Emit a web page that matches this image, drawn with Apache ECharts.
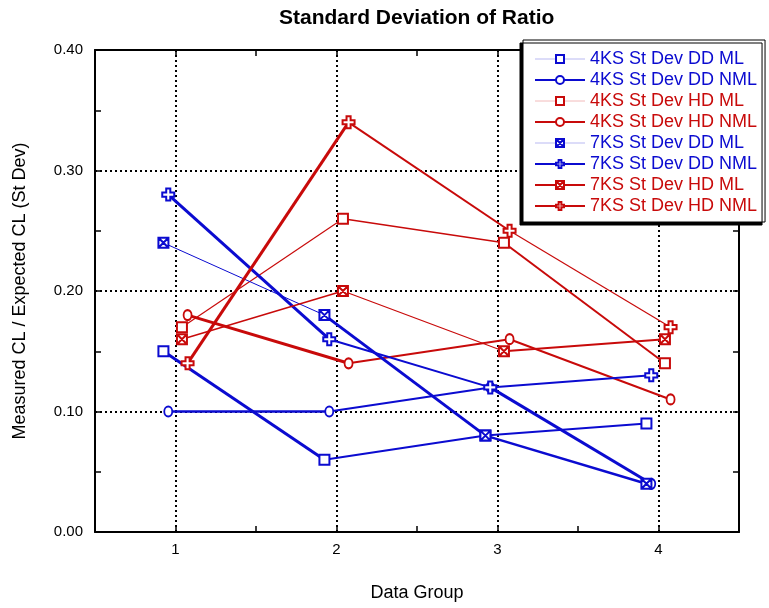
<!DOCTYPE html>
<html>
<head>
<meta charset="utf-8">
<title>Standard Deviation of Ratio</title>
<script src="https://cdn.jsdelivr.net/npm/echarts@6/dist/echarts.min.js"></script>
<style>
    html, body { margin: 0; padding: 0; background: #fff; }
    #main { width: 769px; height: 608px; }
</style>
</head>
<body>
<div id="main"></div>
<script>
// data groups on the x axis
var groups = [1, 2, 3, 4];

var seriesNames = [
    '4KS St Dev DD ML', '4KS St Dev DD NML', '4KS St Dev HD ML', '4KS St Dev HD NML',
    '7KS St Dev DD ML', '7KS St Dev DD NML', '7KS St Dev HD ML', '7KS St Dev HD NML'
];

// St Dev of measured/expected CL, one value per data group
var dd4ML  = [0.15, 0.06, 0.08, 0.09];
var dd4NML = [0.10, 0.10, 0.12, 0.04];
var hd4ML  = [0.17, 0.26, 0.24, 0.14];
var hd4NML = [0.18, 0.14, 0.16, 0.11];
var dd7ML  = [0.24, 0.18, 0.08, 0.04];
var dd7NML = [0.28, 0.16, 0.12, 0.13];
var hd7ML  = [0.16, 0.20, 0.15, 0.16];
var hd7NML = [0.14, 0.34, 0.25, 0.17];

var allValues = [dd4ML, dd4NML, hd4ML, hd4NML, dd7ML, dd7NML, hd7ML, hd7NML];

var blue = '#0b0bd0', red = '#c80a0a';
var lightBlue = '#b9b9f2', lightRed = '#f2baba';
var colors = [blue, blue, red, red, blue, blue, red, red];

// small horizontal shift so markers of one group do not sit on top of each other
var shifts = [-0.075, -0.045, 0.04, 0.075, -0.075, -0.045, 0.04, 0.075];

var SQ = 'path://M0,0H10V10H0Z';
var SQX = 'path://M0,0H10V10H0Z M0,0L10,10 M10,0L0,10';
var PLUS = 'path://M3.3,0H6.7V3.3H10V6.7H6.7V10H3.3V6.7H0V3.3H3.3Z';
var symbols = [SQ, 'circle', SQ, 'circle', SQX, PLUS, SQX, PLUS];
var symbolSizes = [10, [8, 10], 10, [8, 10], 10, 12, 10, 12];

// line width of every segment (the original draws them unevenly)
var segWidths = [
    [3, 2, 2], [2.5, 2, 3], [1.2, 1.5, 2], [3, 2, 2],
    [1, 3, 2.5], [3, 2, 2], [1.5, 1.2, 2], [3, 2, 1.2]
];
var legendLineWidth = [1, 2, 1, 2, 1, 2, 2, 2];
var legendLineColor = [lightBlue, blue, lightRed, red, lightBlue, blue, red, red];

var font = "'Liberation Sans', Arial, sans-serif";

var myChart = echarts.init(document.getElementById('main'));

var series = [];
// markers
seriesNames.forEach(function (name, i) {
    series.push({
        name: name,
        type: 'line',
        z: 5,
        data: groups.map(function (g, j) { return [g + shifts[i], allValues[i][j]]; }),
        symbol: symbols[i],
        symbolSize: symbolSizes[i],
        showAllSymbol: true,
        itemStyle: { color: '#fff', borderColor: colors[i], borderWidth: 2 },
        lineStyle: { opacity: 0 },
        emphasis: { disabled: true }
    });
});
// connecting segments
seriesNames.forEach(function (name, i) {
    for (var j = 0; j < groups.length - 1; j++) {
        series.push({
            name: name,
            type: 'line',
            z: 3,
            symbol: 'none',
            silent: true,
            data: [
                [groups[j] + shifts[i], allValues[i][j]],
                [groups[j + 1] + shifts[i], allValues[i][j + 1]]
            ],
            lineStyle: { color: colors[i], width: segWidths[i][j] },
            emphasis: { disabled: true }
        });
    }
});

var option = {
    animation: false,
    backgroundColor: '#fff',
    title: {
        text: 'Standard Deviation of Ratio',
        left: 279,
        top: 8,
        padding: 0,
        textStyle: { fontFamily: font, fontSize: 21, fontWeight: 'bold', color: '#000' }
    },
    legend: {
        orient: 'vertical',
        left: 523,
        top: 40,
        padding: [10, 8, 7, 11],
        itemWidth: 50,
        itemHeight: 10,
        itemGap: 3,
        backgroundColor: '#fff',
        borderColor: '#000',
        borderWidth: 1,
        shadowColor: '#000',
        shadowBlur: 0,
        shadowOffsetX: -3,
        shadowOffsetY: 3,
        textStyle: { fontFamily: font, fontSize: 18, lineHeight: 18 },
        data: seriesNames.map(function (name, i) {
            return {
                name: name,
                textStyle: { color: colors[i] },
                lineStyle: { width: legendLineWidth[i], color: legendLineColor[i], opacity: 1 }
            };
        })
    },
    grid: { left: 95, right: 30, top: 50, bottom: 76 },
    xAxis: [
        {
            type: 'value',
            position: 'bottom',
            min: 0.5,
            max: 4.5,
            interval: 0.5,
            name: 'Data Group',
            nameLocation: 'middle',
            nameGap: 52,
            nameTextStyle: { fontFamily: font, fontSize: 18, color: '#000' },
            axisLine: { show: true, onZero: false, lineStyle: { color: '#000', width: 2 } },
            axisTick: { show: true, inside: true, length: 6, lineStyle: { color: '#000', width: 1.5 } },
            axisLabel: {
                fontFamily: font, fontSize: 15, color: '#000', margin: 10,
                formatter: function (v) { return groups.indexOf(v) >= 0 ? String(v) : ''; }
            },
            splitLine: { show: true, lineStyle: { color: ['rgba(0,0,0,0)', '#000'], width: 2, type: [2, 3] } }
        },
        {
            type: 'value',
            position: 'top',
            min: 0.5,
            max: 4.5,
            interval: 0.5,
            axisLine: { show: true, onZero: false, lineStyle: { color: '#000', width: 2 } },
            axisTick: { show: true, inside: true, length: 6, lineStyle: { color: '#000', width: 1.5 } },
            axisLabel: { show: false },
            splitLine: { show: false }
        }
    ],
    yAxis: [
        {
            type: 'value',
            position: 'left',
            min: 0,
            max: 0.4,
            interval: 0.05,
            name: 'Measured CL / Expected CL (St Dev)',
            nameLocation: 'middle',
            nameGap: 66,
            nameTextStyle: { fontFamily: font, fontSize: 18, color: '#000' },
            axisLine: { show: true, onZero: false, lineStyle: { color: '#000', width: 2 } },
            axisTick: { show: true, inside: true, length: 6, lineStyle: { color: '#000', width: 1.5 } },
            axisLabel: {
                fontFamily: font, fontSize: 15, color: '#000', margin: 12,
                formatter: function (v) {
                    return Math.round(v * 100) % 10 === 0 ? v.toFixed(2) : '';
                }
            },
            splitLine: { show: true, lineStyle: { color: ['#000', 'rgba(0,0,0,0)'], width: 2, type: [2, 3] } }
        },
        {
            type: 'value',
            position: 'right',
            min: 0,
            max: 0.4,
            interval: 0.05,
            axisLine: { show: true, onZero: false, lineStyle: { color: '#000', width: 2 } },
            axisTick: { show: true, inside: true, length: 6, lineStyle: { color: '#000', width: 1.5 } },
            axisLabel: { show: false },
            splitLine: { show: false }
        }
    ],
    series: series
};

myChart.setOption(option);
</script>
</body>
</html>
